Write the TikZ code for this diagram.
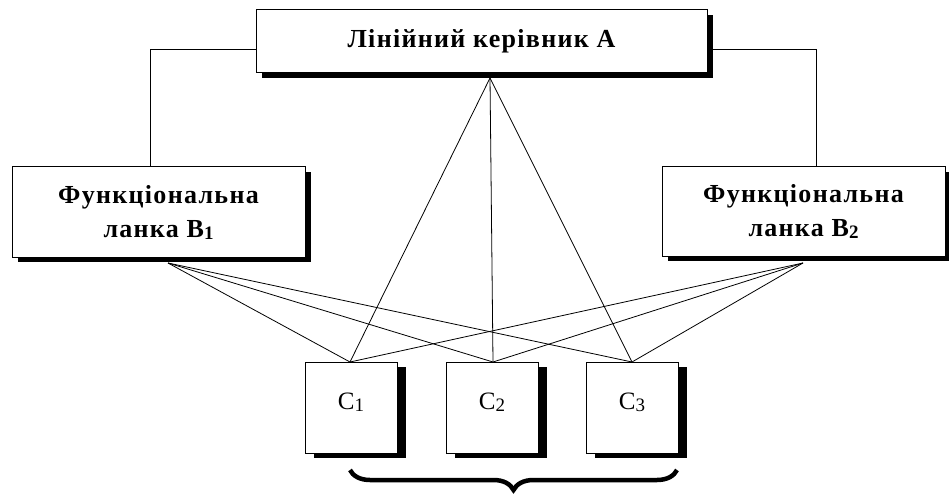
\documentclass[tikz,border=0pt]{standalone}
\usepackage{fontspec}
\setmainfont{Liberation Serif}
\usetikzlibrary{shadows,decorations.pathreplacing}

\tikzset{
  unitbox/.style={draw=black, line width=1pt, fill=white, inner sep=0pt,
    drop shadow={shadow xshift=6pt, shadow yshift=-5pt, fill=black, opacity=1}},
  cbox/.style={draw=black, line width=1pt, fill=white, inner sep=0pt,
    minimum width=92pt, minimum height=91pt,
    drop shadow={shadow xshift=9pt, shadow yshift=-5pt, fill=black, opacity=1},
    font=\addfontfeatures{LetterSpace=10}\fontsize{25}{30}\selectfont},
  headtext/.style={font=\bfseries\addfontfeatures{LetterSpace=5}\fontsize{26}{34}\selectfont,
    align=center},
  link/.style={draw=black, line width=0.8pt},
}
\newcommand{\lowdigit}[1]{\raisebox{-2pt}{\fontsize{19}{19}\selectfont #1}}

\begin{document}
\begin{tikzpicture}[x=1pt, y=-1pt]
  \useasboundingbox (0,0) rectangle (949,494);

  % staff elbows from the line manager to the functional units
  \coordinate (aL) at (256,49);
  \coordinate (aR) at (707,49);
  \coordinate (b1T) at (150,168);
  \coordinate (b2T) at (816,168);
  \draw[link] (aL) -| (b1T);
  \draw[link] (aR) -| (b2T);

  % boxes
  \node[unitbox, minimum width=451pt, minimum height=63pt, headtext] (a) at (481.5,41.5)
    {Лінійний керівник А};
  \node[unitbox, minimum width=293pt, minimum height=90pt, headtext] (b1) at (158.5,212)
    {Функціональна\\ланка В\lowdigit{1}};
  \node[unitbox, minimum width=283pt, minimum height=89pt, headtext] (b2) at (803.5,211.5)
    {Функціональна\\ланка В\lowdigit{2}};

  \node[cbox] (c1) at (351,407.5) {\raisebox{12pt}{С\lowdigit{1}}};
  \node[cbox] (c2) at (492,407.5) {\raisebox{12pt}{С\lowdigit{2}}};
  \node[cbox] (c3) at (632,407.5) {\raisebox{12pt}{С\lowdigit{3}}};

  % fan-out points under the upper boxes
  \coordinate (aB) at (490,78);
  \coordinate (b1B) at (168,263);
  \coordinate (b2B) at (803,263);
  \coordinate (c1T) at (350,362);
  \coordinate (c2T) at (493,362);
  \coordinate (c3T) at (632,362);

  \foreach \s in {aB,b1B,b2B}{
    \foreach \t in {c1T,c2T,c3T}{
      \draw[link] (\s) -- (\t);
    }
  }

  % brace under the executors
  \draw[decorate, decoration={brace, amplitude=20pt, mirror}, line width=4.5pt]
    (350,470) -- (677,470);
\end{tikzpicture}
\end{document}
